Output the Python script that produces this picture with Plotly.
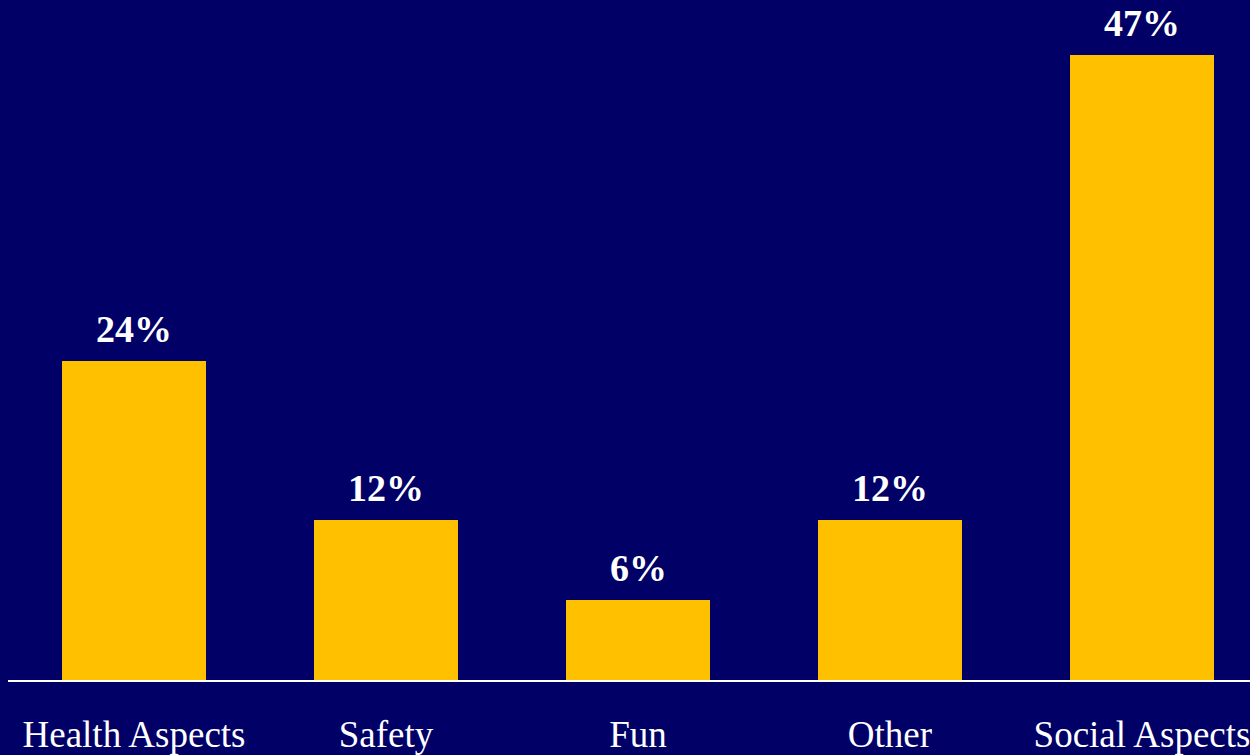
import plotly.graph_objects as go

categories = ["Health Aspects", "Safety", "Fun", "Other", "Social Aspects"]
values = [24, 12, 6, 12, 47]
labels = ["24%", "12%", "6%", "12%", "47%"]

BG = "#000066"
BAR = "#FFC000"

fig = go.Figure()
fig.add_trace(go.Bar(
    x=categories, y=values, marker=dict(color=BAR, line=dict(width=0)),
    width=0.5714, hoverinfo="skip",
))

for c, v, t in zip(categories, values, labels):
    fig.add_annotation(
        x=c, y=v, text=t, showarrow=False, yanchor="bottom", yshift=9,
        font=dict(family="Liberation Serif", size=38, color="white", weight="bold"),
    )

fig.update_layout(
    width=1250, height=755,
    paper_bgcolor=BG, plot_bgcolor=BG,
    margin=dict(l=8, r=0, t=0, b=75, autoexpand=False),
    showlegend=False,
    bargap=0,
)
fig.update_xaxes(
    range=[-0.5, 4.4286], showgrid=False, zeroline=False,
    showline=True, linecolor="white", linewidth=2,
    ticks="", ticklabelstandoff=21, automargin=False,
    tickfont=dict(family="Liberation Serif", size=37, color="white"),
)
fig.update_yaxes(
    range=[0, 51.1], showgrid=False, zeroline=False, showticklabels=False,
    showline=False, automargin=False,
)

fig.write_html(
    "out.html",
    config={"displayModeBar": False},
    post_script="document.body.style.margin='0';document.body.style.padding='0';"
                "document.body.style.background='" + BG + "';document.body.style.overflow='hidden';",
)
